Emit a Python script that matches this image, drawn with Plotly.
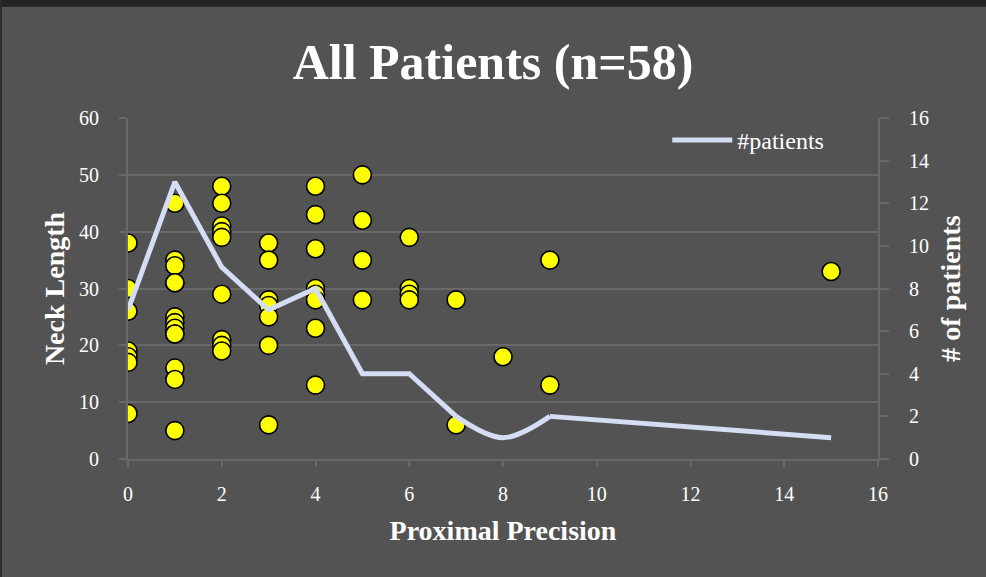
import plotly.graph_objects as go

# Scatter data: Proximal Precision (x) vs Neck Length (y)
precision = (
    [0] * 7 + [1] * 13 + [2] * 9 + [3] * 7 + [4] * 8 + [5] * 4 + [6] * 4 + [7] * 2 + [8] * 1 + [9] * 2 + [15] * 1
)
neck_length = [
    38, 30, 26, 19, 18, 17, 8,
    45, 35, 34, 31, 31, 25, 24, 23, 22, 22, 16, 14, 5,
    48, 45, 41, 40, 39, 29, 21, 20, 19,
    38, 35, 28, 27, 25, 20, 6,
    48, 43, 37, 30, 29, 28, 23, 13,
    50, 42, 35, 28,
    39, 30, 29, 28,
    28, 6,
    18,
    35, 13,
    33,
]

# Line data: number of patients per precision value
count_x = [0, 1, 2, 3, 4, 5, 6, 7, 8, 9, 15]
count_y = [7, 13, 9, 7, 8, 4, 4, 2, 1, 2, 1]

x_ticks = [0, 2, 4, 6, 8, 10, 12, 14, 16]
y_ticks = [0, 10, 20, 30, 40, 50, 60]
y2_ticks = [0, 2, 4, 6, 8, 10, 12, 14, 16]

BG = "#535353"
GRID = "#696969"
LINE = "#D5DDF5"
FONT = "Liberation Serif"

fig = go.Figure()
fig.add_trace(go.Scatter(
    x=precision, y=neck_length, mode="markers", showlegend=False,
    marker=dict(size=18, color="#FFFF00", line=dict(color="#000000", width=1.6)),
))
# count line: straight segments, with the smoothed dip around 7..9
fig.add_trace(go.Scatter(
    x=count_x[:8], y=count_y[:8], mode="lines", name="#patients", yaxis="y2",
    line=dict(color=LINE, width=5),
))
fig.add_trace(go.Scatter(
    x=count_x[7:10], y=count_y[7:10], mode="lines", yaxis="y2", showlegend=False,
    line=dict(color=LINE, width=5, shape="spline", smoothing=1.0),
))
fig.add_trace(go.Scatter(
    x=count_x[9:], y=count_y[9:], mode="lines", yaxis="y2", showlegend=False,
    line=dict(color=LINE, width=5),
))

axis_font = dict(family=FONT, size=20, color="white")
title_font = dict(family=FONT, size=28, color="white")

fig.update_layout(
    width=986, height=577,
    paper_bgcolor=BG, plot_bgcolor=BG,
    margin=dict(l=128, r=108, t=118, b=118),
    title=dict(text="<b>All Patients (n=58)</b>", x=0.5, xanchor="center", y=0.893, yanchor="middle",
               font=dict(family=FONT, size=50, color="white")),
    xaxis=dict(range=[0, 16], tickvals=x_ticks, showgrid=False, zeroline=False,
               showline=True, linecolor=GRID, linewidth=2,
               ticks="outside", ticklen=6, tickcolor=GRID, tickwidth=2,
               tickfont=axis_font, ticklabelstandoff=10,
               title=dict(text="<b>Proximal Precision</b>", font=title_font, standoff=16)),
    yaxis=dict(range=[0, 60], tickvals=y_ticks, showgrid=True, gridcolor=GRID, gridwidth=2,
               zeroline=False, showline=True, linecolor=GRID, linewidth=2,
               ticks="outside", ticklen=7, tickcolor=GRID, tickwidth=2,
               tickfont=axis_font, ticklabelstandoff=16,
               title=dict(text="<b>Neck Length</b>", font=title_font, standoff=6)),
    yaxis2=dict(range=[0, 16], tickvals=y2_ticks, overlaying="y", side="right",
                showgrid=False, zeroline=False, showline=True, linecolor=GRID, linewidth=2,
                ticks="outside", ticklen=9, tickcolor=GRID, tickwidth=2,
                tickfont=axis_font, ticklabelstandoff=16,
                title=dict(text="<b># of patients</b>", font=title_font, standoff=12)),
    legend=dict(x=0.935, xanchor="right", y=1.0, yanchor="top", bgcolor="rgba(0,0,0,0)",
                font=dict(family=FONT, size=24, color="white"), itemwidth=60,
                tracegroupgap=0),
    shapes=[
        dict(type="rect", xref="paper", yref="paper", x0=-0.2, x1=1.2,
             y0=1.326, y1=1.4, fillcolor="#232323", line=dict(width=0), layer="below"),
        dict(type="rect", xref="paper", yref="paper", x0=-0.2, x1=-0.1681,
             y0=-0.4, y1=1.4, fillcolor="#2b2b2b", line=dict(width=0), layer="below"),
    ],
)

fig.write_html("out.html", config={"displayModeBar": False},
               post_script="document.body.style.margin='0';")
